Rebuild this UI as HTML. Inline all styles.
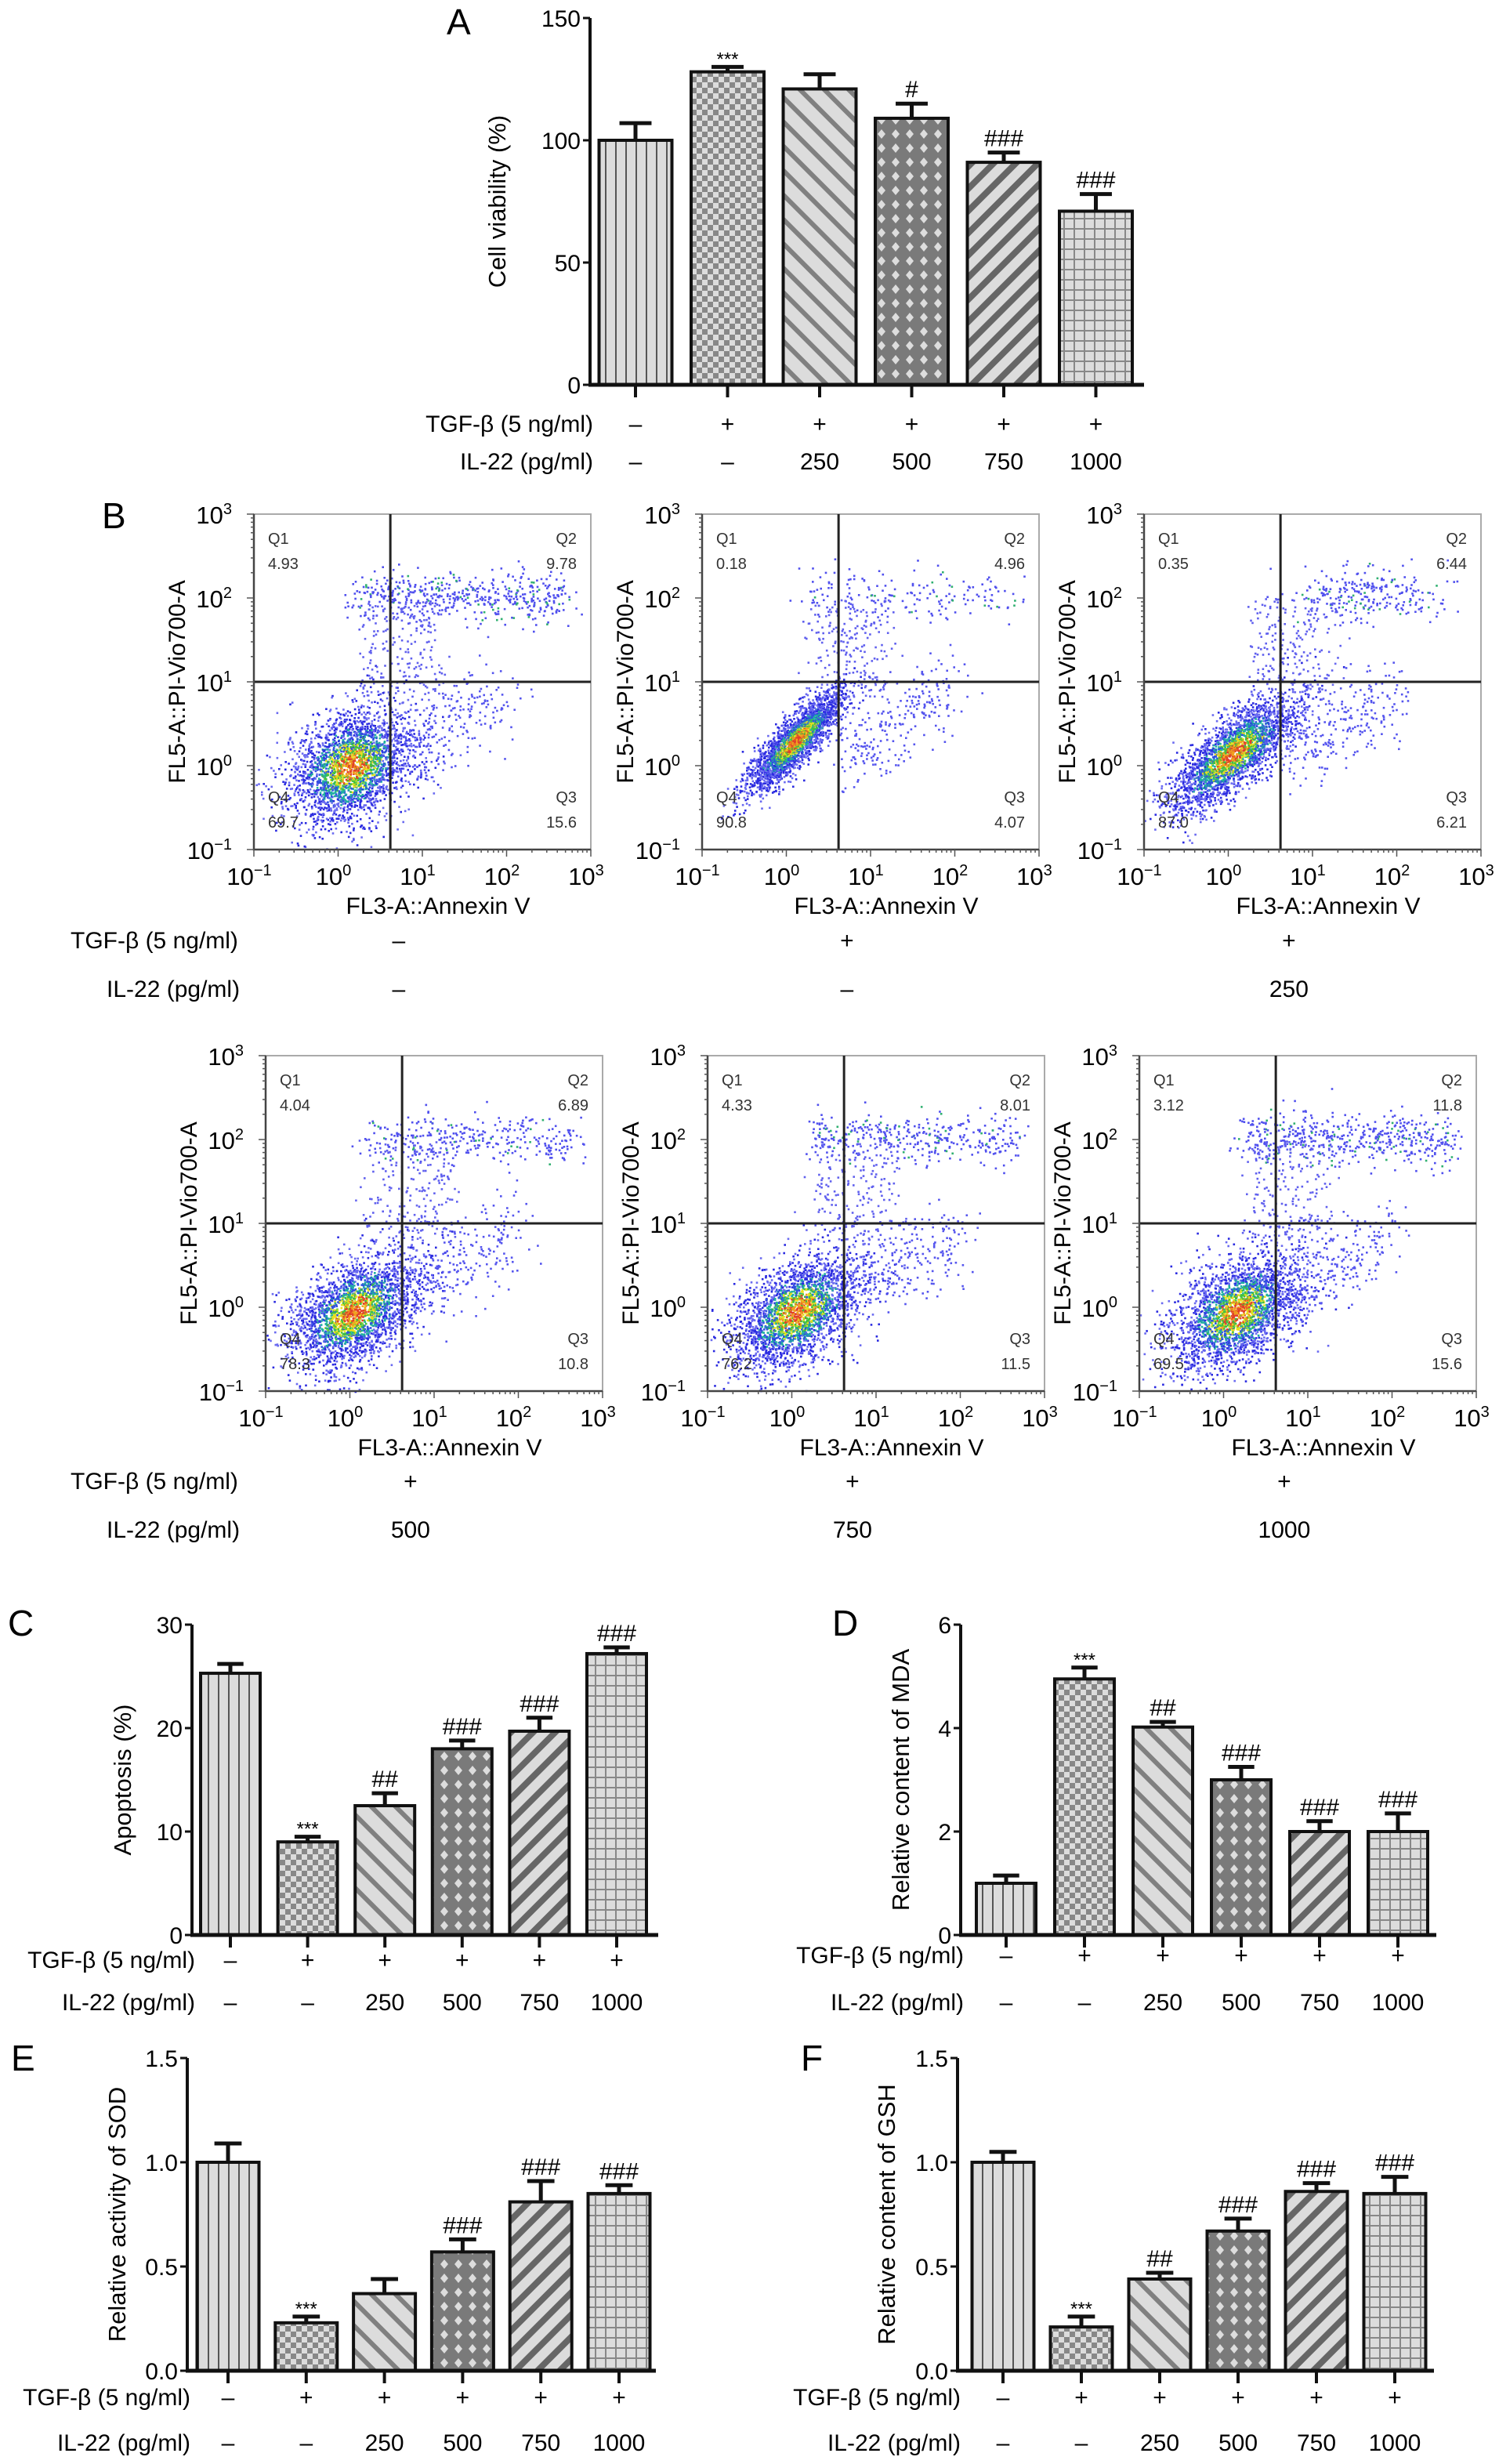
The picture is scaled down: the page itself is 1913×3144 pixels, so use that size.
<!DOCTYPE html>
<html><head><meta charset="utf-8">
<style>
html,body{margin:0;padding:0;background:#fff;}
svg{display:block;font-family:"Liberation Sans",Arial,sans-serif;}
</style></head>
<body>
<svg id="fig" xmlns="http://www.w3.org/2000/svg" width="1913" height="3144" viewBox="0 0 1913 3144">
<defs>
<pattern id="p0" patternUnits="userSpaceOnUse" width="13" height="13"><rect width="13" height="13" fill="#dcdcdc"/><line x1="6" y1="0" x2="6" y2="13" stroke="#555" stroke-width="2"/></pattern>
<pattern id="p1" patternUnits="userSpaceOnUse" width="14" height="14"><rect width="14" height="14" fill="#dcdcdc"/><rect width="7" height="7" fill="#888"/><rect x="7" y="7" width="7" height="7" fill="#888"/></pattern>
<pattern id="p2" patternUnits="userSpaceOnUse" width="22" height="22" patternTransform="rotate(-45)"><rect width="22" height="22" fill="#dcdcdc"/><rect width="6" height="22" fill="#808080"/></pattern>
<pattern id="p3" patternUnits="userSpaceOnUse" width="18" height="18"><rect width="18" height="18" fill="#7a7a7a"/><polygon points="9,3 14,9 9,15 4,9" fill="#ddd"/></pattern>
<pattern id="p4" patternUnits="userSpaceOnUse" width="20" height="20" patternTransform="rotate(45)"><rect width="20" height="20" fill="#dcdcdc"/><rect width="8" height="20" fill="#666"/></pattern>
<pattern id="p5" patternUnits="userSpaceOnUse" width="13" height="13"><rect width="13" height="13" fill="#dcdcdc"/><line x1="6" y1="0" x2="6" y2="13" stroke="#888" stroke-width="2"/><line x1="0" y1="6" x2="13" y2="6" stroke="#888" stroke-width="2"/></pattern>
</defs>
<g id="root"></g>
</svg>
<script>
// ---------- bar chart data ----------
const tgfRow = ['–','+','+','+','+','+'];
const ilRow = ['–','–','250','500','750','1000'];
const aValues = [100, 128, 121, 109, 91, 71];
const aErrors = [7, 2, 6, 6, 4, 7];
const aMarks = ['', '***', '', '#', '###', '###'];
const aTicks = [0, 50, 100, 150];
const cValues = [25.3, 9.0, 12.5, 18.0, 19.7, 27.2];
const cErrors = [0.9, 0.5, 1.2, 0.8, 1.3, 0.6];
const cMarks = ['', '***', '##', '###', '###', '###'];
const cTicks = [0, 10, 20, 30];
const dValues = [1.0, 4.95, 4.02, 3.0, 2.0, 2.0];
const dErrors = [0.15, 0.22, 0.1, 0.25, 0.2, 0.35];
const dMarks = ['', '***', '##', '###', '###', '###'];
const dTicks = [0, 2, 4, 6];
const eValues = [1.0, 0.23, 0.37, 0.57, 0.81, 0.85];
const eErrors = [0.09, 0.03, 0.07, 0.06, 0.1, 0.04];
const eMarks = ['', '***', '', '###', '###', '###'];
const eTicks = [0, 0.5, 1.0, 1.5];
const eTickLabels = ['0.0', '0.5', '1.0', '1.5'];
const fValues = [1.0, 0.21, 0.44, 0.67, 0.86, 0.85];
const fErrors = [0.05, 0.05, 0.03, 0.06, 0.04, 0.08];
const fMarks = ['', '***', '##', '###', '###', '###'];
// ---------- flow data ----------
const flowQ1 = ['4.93','0.18','0.35','4.04','4.33','3.12'];
const flowQ2 = ['9.78','4.96','6.44','6.89','8.01','11.8'];
const flowQ3 = ['15.6','4.07','6.21','10.8','11.5','15.6'];
const flowQ4 = ['69.7','90.8','87.0','78.3','76.2','69.5'];
const flowTgf = ['–','+','+','+','+','+'];
const flowIl = ['–','–','250','500','750','1000'];
// cluster centres (log10) and spreads
const mainCx = [0.15, 0.1, 0.05, 0.05, 0.05, 0.15];
const mainCy = [0.0, 0.3, 0.15, -0.05, -0.05, -0.05];
const mainCorr = [0.3, 0.85, 0.75, 0.45, 0.45, 0.45];
const q2Count = [500, 180, 260, 330, 380, 520];

const NS = 'http://www.w3.org/2000/svg';
const root = document.getElementById('root');
function el(tag, attrs, parent, text) {
  const e = document.createElementNS(NS, tag);
  for (const k in attrs) e.setAttribute(k, attrs[k]);
  if (text !== undefined) e.textContent = text;
  (parent || root).appendChild(e);
  return e;
}

function barChart(name, o) {
  const g = el('g', {});
  
  
  const yS = v => o.zero - (v / o.max) * (o.zero - o.top);
  const xS = i => o.x0 + i * o.step;
  const L = el('text', {x: o.lx, y: o.ly, 'font-size': 46}, g, o.letter);
  
  
  o.values.forEach((v, i) => {
    const x = xS(i), y = yS(v);
    const r = el('rect', {x: x - o.bw / 2, y: y, width: o.bw, height: o.zero - y, fill: 'url(#p' + i + ')', stroke: '#111', 'stroke-width': 4}, g);
    
    
    const ye = yS(v + o.errors[i]);
    const eb = el('path', {d: `M${x} ${y}V${ye}M${x - o.bw * 0.22} ${ye}H${x + o.bw * 0.22}`, stroke: '#111', 'stroke-width': 5, fill: 'none'}, g);
    
    
    if (o.marks[i]) {
      const star = o.marks[i][0] === '*';
      const m = el('text', {x: x, y: ye - (star ? 2 : 8), 'font-size': star ? 24 : 30, 'text-anchor': 'middle'}, g, o.marks[i]);
      
      
    }
    el('line', {x1: x, y1: o.zero, x2: x, y2: o.zero + 16, stroke: '#111', 'stroke-width': 4}, g);
    const t1 = el('text', {x: x, y: o.row1 + 11, 'font-size': 30, 'text-anchor': 'middle'}, g, tgfRow[i]);
    
    
    const t2 = el('text', {x: x, y: o.row2 + 11, 'font-size': 30, 'text-anchor': 'middle'}, g, ilRow[i]);
    
    
  });
  const ya = el('line', {x1: o.ax, y1: o.top, x2: o.ax, y2: o.zero, stroke: '#111', 'stroke-width': 4}, g);
  
  
  const xa = el('line', {x1: o.ax - 2, y1: o.zero, x2: o.xend, y2: o.zero, stroke: '#111', 'stroke-width': 5}, g);
  
  
  o.ticks.forEach((t, i) => {
    const y = yS(t);
    el('line', {x1: o.ax - 9, y1: y, x2: o.ax, y2: y, stroke: '#111', 'stroke-width': 3}, g);
    const tl = el('text', {x: o.ax - 12, y: y + 11, 'font-size': 30, 'text-anchor': 'end'}, g, o.tickLabels ? o.tickLabels[i] : String(t));
    
    
  });
  const yl = el('text', {x: 0, y: 0, 'font-size': 31, 'text-anchor': 'middle', transform: `translate(${o.ylx},${(o.top + o.zero) / 2}) rotate(-90)`}, g, o.ylabel);
  
  
  const r1 = el('text', {x: o.ax + 4, y: o.row1 + 11, 'font-size': 30, 'text-anchor': 'end'}, g, 'TGF-β (5 ng/ml)');
  
  
  const r2 = el('text', {x: o.ax + 4, y: o.row2 + 11, 'font-size': 30, 'text-anchor': 'end'}, g, 'IL-22 (pg/ml)');
  
  
}

barChart('panel-a-cell-viability', {letter:'A', lx:570, ly:44, ax:753, top:23, zero:491, max:150, xend:1460, x0:811, step:117.5, bw:93,
  values:aValues, errors:aErrors, marks:aMarks, ticks:aTicks, ylabel:'Cell viability (%)', ylx:645, row1:540, row2:588});
barChart('panel-c-apoptosis', {letter:'C', lx:10, ly:2087, ax:245, top:2073, zero:2469, max:30, xend:840, x0:294, step:98.6, bw:76,
  values:cValues, errors:cErrors, marks:cMarks, ticks:cTicks, ylabel:'Apoptosis (%)', ylx:167, row1:2500, row2:2554});
barChart('panel-d-mda', {letter:'D', lx:1062, ly:2087, ax:1226, top:2073, zero:2469, max:6, xend:1833, x0:1284, step:100, bw:76,
  values:dValues, errors:dErrors, marks:dMarks, ticks:dTicks, ylabel:'Relative content of MDA', ylx:1160, row1:2494, row2:2554});
barChart('panel-e-sod', {letter:'E', lx:14, ly:2642, ax:239, top:2626, zero:3025, max:1.5, xend:837, x0:291, step:99.8, bw:79,
  values:eValues, errors:eErrors, marks:eMarks, ticks:eTicks, tickLabels:eTickLabels, ylabel:'Relative activity of SOD', ylx:160, row1:3058, row2:3116});
barChart('panel-f-gsh', {letter:'F', lx:1022, ly:2642, ax:1222, top:2626, zero:3025, max:1.5, xend:1830, x0:1280, step:100, bw:79,
  values:fValues, errors:fErrors, marks:fMarks, ticks:eTicks, tickLabels:eTickLabels, ylabel:'Relative content of GSH', ylx:1142, row1:3058, row2:3116});

// ---------- flow panels ----------
function rng(seed){return function(){seed|=0;seed=seed+0x6D2B79F5|0;let t=Math.imul(seed^seed>>>15,1|seed);t=t+Math.imul(t^t>>>7,61|t)^t;return((t^t>>>14)>>>0)/4294967296;};}
const boxX = [324, 896, 1460, 339, 903, 1454];
const boxY = [656, 656, 656, 1347, 1347, 1347];
const BW = 430, BH = 428;
const Bl = el('text', {x: 130, y: 674, 'font-size': 46}, root, 'B');


for (let p = 0; p < 6; p++) {
  const g = el('g', {});
  
  
  const bx = boxX[p], by = boxY[p];
  const X = lx => bx + (lx + 1) / 4 * BW;
  const Y = ly => by + BH - (ly + 1) / 4 * BH;
  el('rect', {x: bx, y: by, width: BW, height: BH, fill: '#fff', stroke: '#aaa', 'stroke-width': 2}, g);
  const R = rng(p * 977 + 13);
  const gauss = () => { let u = R() || 1e-9, v = R(); return Math.sqrt(-2 * Math.log(u)) * Math.cos(2 * Math.PI * v); };
  const dots = el('g', {}, g);
  
  
  let s = '';
  const add = (lx, ly, c) => { if (lx < -1 || lx > 3 || ly < -1 || ly > 3) return; s += `<rect x="${X(lx).toFixed(1)}" y="${Y(ly).toFixed(1)}" width="2.6" height="2.6" fill="${c}"/>`; };
  const cx = mainCx[p], cy = mainCy[p], rho = mainCorr[p];
  const sx = p === 1 ? 0.28 : 0.38, sy = p === 1 ? 0.3 : 0.35;
  const pts = [];
  for (let i = 0; i < 2600; i++) {
    const a = gauss(), b = gauss();
    const dx = a * sx, dy = (rho * a + Math.sqrt(1 - rho * rho) * b) * sy;
    const d = Math.sqrt(a * a + b * b);
    pts.push([cx + dx, cy + dy, d]);
  }
  pts.sort((u, v) => v[2] - u[2]);
  pts.forEach(q => {
    const d = q[2] + (R() - 0.5) * 0.5;
    let c = '#2a2ae0';
    if (d < 0.4) c = R() < 0.5 ? '#e0402a' : '#f0a020';
    else if (d < 0.75) c = R() < 0.5 ? '#e8e020' : '#40c040';
    else if (d < 1.15) c = R() < 0.5 ? '#20b0a0' : '#3050e0';
    else if (R() < 0.5) c = '#6a6af0';
    add(q[0], q[1], c);
  });
  for (let i = 0; i < 250; i++) { const t = R(); add(0.6 + t * 1.4 + gauss() * 0.15, 0.1 + t * 0.8 + gauss() * 0.25, '#5555ee'); }
  for (let i = 0; i < q2Count[p]; i++) {
    const t = R();
    const lx = p === 2 ? 1.6 + gauss() * 0.45 : 0.2 + t * 2.5;
    add(lx + gauss() * 0.1, 2.05 + gauss() * 0.15 - (p === 2 ? 0 : t * 0.05), R() < 0.1 ? '#30b070' : '#5050ee');
  }
  for (let i = 0; i < 200; i++) add(0.3 + R() * 0.9 + gauss() * 0.1, 0.8 + R() * 1.2, '#6060ee');
  dots.innerHTML = s;
  const qx = X(0.62), qy = Y(1);
  const ql = el('path', {d: `M${qx} ${by}V${by + BH}M${bx} ${qy}H${bx + BW}`, stroke: '#222', 'stroke-width': 3, fill: 'none'}, g);
  
  
  el('path', {d: `M${bx} ${by}V${by + BH}H${bx + BW}`, stroke: '#444', 'stroke-width': 2.5, fill: 'none'}, g);
  for (let dcd = -1; dcd <= 3; dcd++) {
    for (let k = 1; k <= 9; k++) {
      const v = dcd + Math.log10(k);
      if (v > 3) break;
      const len = k === 1 ? 9 : 4;
      el('line', {x1: X(v), y1: by + BH, x2: X(v), y2: by + BH + len, stroke: '#555', 'stroke-width': 1.5}, g);
      el('line', {x1: bx - len, y1: Y(v), x2: bx, y2: Y(v), stroke: '#555', 'stroke-width': 1.5}, g);
    }
    const xt = el('text', {x: X(dcd) - 6, y: by + BH + 45, 'font-size': 31, 'text-anchor': 'middle'}, g);
    xt.innerHTML = `10<tspan dy="-12" font-size="20">${dcd === -1 ? '−1' : dcd}</tspan>`;
    
    
    const yt = el('text', {x: bx - 28, y: Y(dcd) + 12, 'font-size': 31, 'text-anchor': 'end'}, g);
    yt.innerHTML = `10<tspan dy="-12" font-size="20">${dcd === -1 ? '−1' : dcd}</tspan>`;
    
    
  }
  const xl = el('text', {x: bx + BW * 0.5 + 20, y: by + BH + 82, 'font-size': 30, 'text-anchor': 'middle'}, g, 'FL3-A::Annexin V');
  
  
  const yl = el('text', {x: 0, y: 0, 'font-size': 30, 'text-anchor': 'middle', transform: `translate(${bx - 88},${by + BH / 2}) rotate(-90)`}, g, 'FL5-A::PI-Vio700-A');
  
  
  const qs = [['Q1', flowQ1[p], bx + 18, by + 38, 'start'], ['Q2', flowQ2[p], bx + BW - 18, by + 38, 'end'],
              ['Q4', flowQ4[p], bx + 18, by + BH - 60, 'start'], ['Q3', flowQ3[p], bx + BW - 18, by + BH - 60, 'end']];
  qs.forEach(q => {
    const t1 = el('text', {x: q[2], y: q[3], 'font-size': 20, fill: '#333', 'text-anchor': q[4]}, g, q[0]);
    
    
    const t2 = el('text', {x: q[2], y: q[3] + 32, 'font-size': 20, fill: '#333', 'text-anchor': q[4]}, g, q[1]);
    
    
  });
  const ry = p < 3 ? 1200 : 1890;
  const cxm = bx + BW * 0.43;
  const c1 = el('text', {x: cxm, y: ry + 10, 'font-size': 30, 'text-anchor': 'middle'}, root, flowTgf[p]);
  
  
  const c2 = el('text', {x: cxm, y: ry + 72, 'font-size': 30, 'text-anchor': 'middle'}, root, flowIl[p]);
  
  
}
[1200, 1890].forEach(ry => {
  const a = el('text', {x: 90, y: ry + 10, 'font-size': 30}, root, 'TGF-β (5 ng/ml)');
  
  
  const b = el('text', {x: 136, y: ry + 72, 'font-size': 30}, root, 'IL-22 (pg/ml)');
  
  
});
</script>
</body></html>
